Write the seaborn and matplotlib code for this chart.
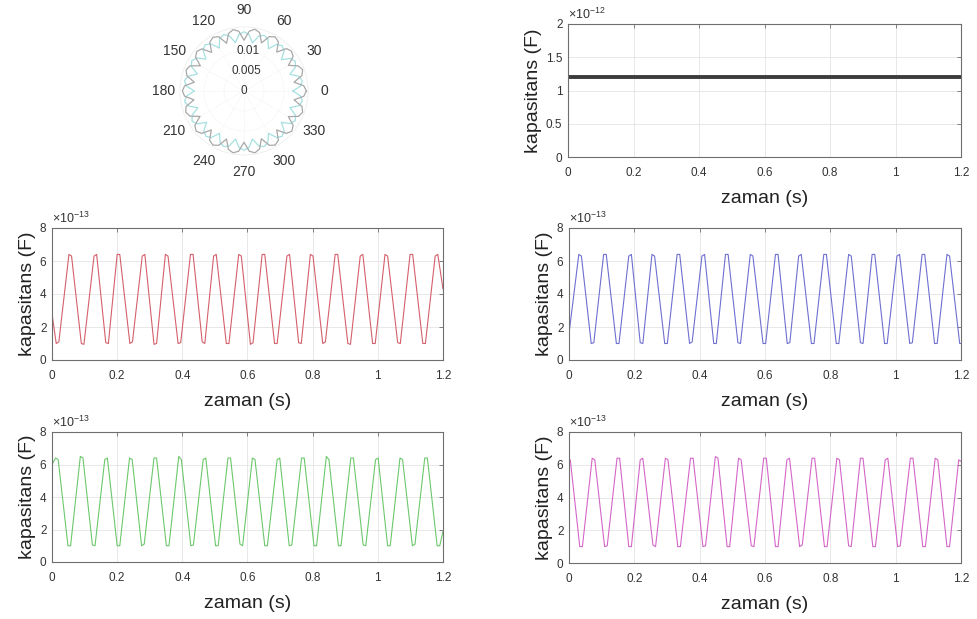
import numpy as np
import pandas as pd
import matplotlib
matplotlib.use("Agg")
import matplotlib.pyplot as plt
import seaborn as sns

# ------------------------------------------------------------------ data
time_ticks = [0, 0.2, 0.4, 0.6, 0.8, 1.0, 1.2]
time_tick_labels = ["0", "0.2", "0.4", "0.6", "0.8", "1", "1.2"]

# constant capacitance (units of 1e-12 F)
const_t = [0.0, 1.2]
const_c = [1.2, 1.2]
const_yticks = [0, 0.5, 1, 1.5, 2]
const_ytick_labels = ["0", "0.5", "1", "1.5", "2"]

# oscillating capacitances (units of 1e-13 F)
osc_yticks = [0, 2, 4, 6, 8]
osc_ytick_labels = ["0", "2", "4", "6", "8"]

red_t = [0.0,
         0.013, 0.021, 0.052, 0.060, 0.090, 0.098, 0.129, 0.137,
         0.165, 0.173, 0.200, 0.208, 0.239, 0.247, 0.277, 0.285,
         0.313, 0.321, 0.348, 0.356, 0.387, 0.395, 0.425, 0.433,
         0.461, 0.469, 0.496, 0.504, 0.535, 0.543, 0.573, 0.581,
         0.609, 0.617, 0.645, 0.653, 0.683, 0.691, 0.721, 0.729,
         0.757, 0.765, 0.793, 0.801, 0.831, 0.839, 0.869, 0.877,
         0.908, 0.916, 0.946, 0.954, 0.984, 0.992, 1.022, 1.030,
         1.061, 1.069, 1.099, 1.107, 1.138, 1.146, 1.176, 1.184,
         1.200]
red_c = [2.8,
         1.0, 1.1, 6.4, 6.3, 1.0, 0.95, 6.3, 6.4,
         1.05, 1.0, 6.4, 6.4, 1.0, 1.1, 6.3, 6.4,
         0.95, 1.0, 6.4, 6.3, 1.0, 1.05, 6.4, 6.4,
         1.1, 1.0, 6.3, 6.4, 1.0, 1.0, 6.4, 6.3,
         0.95, 1.05, 6.4, 6.4, 1.0, 1.0, 6.3, 6.4,
         1.05, 1.0, 6.4, 6.3, 1.0, 1.1, 6.4, 6.4,
         1.0, 0.95, 6.3, 6.4, 1.0, 1.0, 6.4, 6.3,
         1.05, 1.0, 6.4, 6.4, 1.0, 1.0, 6.3, 6.4,
         4.3]

blue_t = [0.0,
          0.030, 0.038, 0.068, 0.076, 0.106, 0.114, 0.145, 0.153,
          0.183, 0.191, 0.218, 0.226, 0.254, 0.262, 0.293, 0.301,
          0.331, 0.339, 0.369, 0.377, 0.407, 0.415, 0.443, 0.451,
          0.479, 0.487, 0.517, 0.525, 0.555, 0.563, 0.594, 0.602,
          0.632, 0.640, 0.668, 0.676, 0.703, 0.711, 0.742, 0.750,
          0.780, 0.788, 0.818, 0.826, 0.856, 0.864, 0.892, 0.900,
          0.928, 0.936, 0.966, 0.974, 1.004, 1.012, 1.043, 1.051,
          1.081, 1.089, 1.119, 1.127, 1.157, 1.165, 1.196, 1.200]
blue_c = [1.6,
          6.4, 6.3, 1.0, 1.05, 6.4, 6.4, 1.0, 1.0,
          6.3, 6.4, 1.05, 1.0, 6.4, 6.3, 1.0, 1.0,
          6.4, 6.4, 1.0, 1.1, 6.3, 6.4, 1.0, 1.0,
          6.4, 6.4, 1.05, 1.0, 6.4, 6.3, 1.0, 1.0,
          6.4, 6.4, 1.0, 1.05, 6.3, 6.4, 1.0, 1.0,
          6.4, 6.4, 1.0, 1.0, 6.4, 6.3, 1.05, 1.0,
          6.4, 6.4, 1.0, 1.0, 6.3, 6.4, 1.0, 1.05,
          6.4, 6.4, 1.0, 1.0, 6.4, 6.3, 1.0, 1.0]

green_t = [0.0,
           0.011, 0.019, 0.049, 0.057, 0.087, 0.095, 0.124, 0.132,
           0.162, 0.170, 0.200, 0.208, 0.238, 0.246, 0.275, 0.283,
           0.313, 0.321, 0.351, 0.359, 0.389, 0.397, 0.426, 0.434,
           0.464, 0.472, 0.502, 0.510, 0.540, 0.548, 0.577, 0.585,
           0.615, 0.623, 0.653, 0.661, 0.691, 0.699, 0.728, 0.736,
           0.766, 0.774, 0.804, 0.812, 0.842, 0.850, 0.879, 0.887,
           0.917, 0.925, 0.955, 0.963, 0.993, 1.001, 1.030, 1.038,
           1.068, 1.076, 1.106, 1.114, 1.144, 1.152, 1.182, 1.190,
           1.200]
green_c = [6.0,
           6.4, 6.3, 1.0, 1.0, 6.5, 6.4, 1.05, 1.0,
           6.3, 6.4, 1.0, 1.0, 6.4, 6.3, 1.0, 1.1,
           6.4, 6.4, 1.0, 1.0, 6.5, 6.3, 1.0, 1.05,
           6.3, 6.4, 1.0, 1.0, 6.4, 6.4, 1.1, 1.0,
           6.4, 6.3, 1.0, 1.0, 6.3, 6.4, 1.0, 1.05,
           6.4, 6.4, 1.0, 1.0, 6.5, 6.3, 1.0, 1.0,
           6.4, 6.4, 1.05, 1.0, 6.3, 6.4, 1.0, 1.0,
           6.4, 6.3, 1.0, 1.1, 6.4, 6.4, 1.0, 1.0,
           1.9]

magenta_t = [0.0, 0.004,
             0.033, 0.041, 0.071, 0.079, 0.109, 0.117, 0.147, 0.155,
             0.183, 0.191, 0.218, 0.226, 0.257, 0.265, 0.295, 0.303,
             0.333, 0.341, 0.372, 0.380, 0.410, 0.418, 0.448, 0.456,
             0.484, 0.492, 0.519, 0.527, 0.558, 0.566, 0.596, 0.604,
             0.632, 0.640, 0.667, 0.675, 0.706, 0.714, 0.744, 0.752,
             0.782, 0.790, 0.820, 0.828, 0.856, 0.864, 0.892, 0.900,
             0.930, 0.938, 0.968, 0.976, 1.006, 1.014, 1.045, 1.053,
             1.083, 1.091, 1.121, 1.129, 1.157, 1.165, 1.193, 1.200]
magenta_c = [6.2, 6.3,
             1.0, 1.0, 6.4, 6.3, 1.0, 1.05, 6.4, 6.4,
             1.0, 1.0, 6.3, 6.4, 1.1, 1.0, 6.4, 6.3,
             1.0, 1.0, 6.4, 6.4, 1.0, 1.05, 6.5, 6.4,
             1.0, 1.0, 6.4, 6.3, 1.05, 1.0, 6.4, 6.4,
             1.0, 1.0, 6.3, 6.4, 1.0, 1.1, 6.4, 6.4,
             1.0, 1.0, 6.4, 6.3, 1.05, 1.0, 6.4, 6.4,
             1.0, 1.0, 6.3, 6.4, 1.0, 1.05, 6.4, 6.4,
             1.0, 1.0, 6.4, 6.3, 1.0, 1.0, 6.3, 6.2]

# polar pattern (degrees, radius)
polar_deg = [0, 5, 10, 15, 20, 25, 30, 35, 40, 45, 50, 55, 60, 65, 70, 75,
             80, 85, 90, 95, 100, 105, 110, 115, 120, 125, 130, 135, 140, 145,
             150, 155, 160, 165, 170, 175, 180, 185, 190, 195, 200, 205, 210,
             215, 220, 225, 230, 235, 240, 245, 250, 255, 260, 265, 270, 275,
             280, 285, 290, 295, 300, 305, 310, 315, 320, 325, 330, 335, 340,
             345, 350, 355, 360]
polar_r_gray = [0.0156, 0.0150, 0.0127, 0.0150, 0.0156, 0.0149, 0.0128, 0.0150,
                0.0155, 0.0150, 0.0127, 0.0150, 0.0156, 0.0150, 0.0128, 0.0151,
                0.0157, 0.0150, 0.0127, 0.0150, 0.0156, 0.0149, 0.0127, 0.0150,
                0.0155, 0.0149, 0.0126, 0.0149, 0.0154, 0.0148, 0.0126, 0.0149,
                0.0154, 0.0148, 0.0126, 0.0149, 0.0154, 0.0149, 0.0127, 0.0150,
                0.0155, 0.0149, 0.0127, 0.0150, 0.0156, 0.0150, 0.0127, 0.0150,
                0.0156, 0.0150, 0.0128, 0.0151, 0.0157, 0.0151, 0.0128, 0.0151,
                0.0157, 0.0150, 0.0127, 0.0150, 0.0156, 0.0150, 0.0127, 0.0150,
                0.0156, 0.0150, 0.0128, 0.0150, 0.0156, 0.0150, 0.0127, 0.0150,
                0.0156]
polar_r_cyan = [0.0122, 0.0142, 0.0148, 0.0142, 0.0122, 0.0142, 0.0148, 0.0142,
                0.0122, 0.0142, 0.0148, 0.0142, 0.0122, 0.0142, 0.0148, 0.0142,
                0.0122, 0.0142, 0.0148, 0.0142, 0.0123, 0.0143, 0.0150, 0.0144,
                0.0124, 0.0144, 0.0151, 0.0145, 0.0124, 0.0144, 0.0151, 0.0145,
                0.0124, 0.0144, 0.0151, 0.0145, 0.0124, 0.0144, 0.0151, 0.0144,
                0.0123, 0.0143, 0.0150, 0.0143, 0.0122, 0.0142, 0.0148, 0.0142,
                0.0122, 0.0142, 0.0148, 0.0142, 0.0122, 0.0142, 0.0148, 0.0142,
                0.0122, 0.0142, 0.0148, 0.0142, 0.0122, 0.0142, 0.0148, 0.0142,
                0.0122, 0.0142, 0.0148, 0.0142, 0.0122, 0.0142, 0.0148, 0.0142,
                0.0122]
polar_rticks = [0, 0.005, 0.01]
polar_rtick_labels = ["0", "0.005", "0.01"]
polar_theta_ticks = [0, 30, 60, 90, 120, 150, 180, 210, 240, 270, 300, 330]

# ------------------------------------------------------------------ style
sns.set_theme(style="white")
plt.rcParams["font.family"] = ["Liberation Sans", "DejaVu Sans"]
plt.rcParams["mathtext.fontset"] = "custom"
plt.rcParams["mathtext.rm"] = "Liberation Sans"
plt.rcParams["mathtext.it"] = "Liberation Sans:italic"

W, H = 978, 619
fig = plt.figure(figsize=(W / 100, H / 100), dpi=100)
fig.patch.set_facecolor("white")


def px_axes(left, top, right, bottom, **kw):
    return fig.add_axes([left / W, 1 - bottom / H, (right - left) / W,
                         (bottom - top) / H], **kw)


AX_COL = "#6e6e6e"
TXT_COL = "#333333"


def style_time_axis(ax, ylim, yticks, ylabels, exponent):
    ax.set_xlim(0, 1.2)
    ax.set_ylim(*ylim)
    ax.set_xticks(time_ticks)
    ax.set_xticklabels(time_tick_labels)
    ax.set_yticks(yticks)
    ax.set_yticklabels(ylabels)
    ax.set_axisbelow(True)
    ax.grid(True, color="#e4e4e4", linewidth=0.6)
    ax.tick_params(direction="in", top=True, right=True, length=3, width=0.6,
                   color=AX_COL, labelcolor=TXT_COL, labelsize=8.5)
    ax.tick_params(axis="x", pad=7)
    ax.tick_params(axis="y", pad=4)
    for s in ax.spines.values():
        s.set_visible(True)
        s.set_color(AX_COL)
        s.set_linewidth(0.8)
    ax.set_xlabel("zaman (s)", fontsize=14, labelpad=8, color="#222222")
    ax.set_ylabel("kapasitans (F)", fontsize=14, labelpad=3, color="#222222")
    ax.text(0.0, 1.015, r"$\times10^{%d}$" % exponent, transform=ax.transAxes,
            fontsize=9, ha="left", va="bottom", color=TXT_COL)


# ---- polar plot
axp = px_axes(180, 27, 308, 155, projection="polar")
sns.lineplot(x=np.deg2rad(polar_deg), y=polar_r_cyan, ax=axp, color="#a6e0e0",
             linewidth=0.9, sort=False, estimator=None)
sns.lineplot(x=np.deg2rad(polar_deg), y=polar_r_gray, ax=axp, color="#a8a8a8",
             linewidth=0.9, sort=False, estimator=None)
axp.set_ylim(0, 0.016)
axp.set_yticks(polar_rticks)
axp.set_yticklabels([])
for rv, lab in zip(polar_rticks, polar_rtick_labels):
    axp.text(np.deg2rad(84), rv, lab, ha="center", va="center", fontsize=8.5,
             color=TXT_COL)
axp.set_thetagrids(polar_theta_ticks, [str(a) for a in polar_theta_ticks])
axp.tick_params(axis="x", labelsize=10, labelcolor=TXT_COL, pad=-1)
axp.grid(True, color="#ececec", linewidth=0.6, linestyle=":")
axp.spines["polar"].set_color("#eeeeee")
axp.spines["polar"].set_linewidth(0.6)
axp.set_xlabel("")
axp.set_ylabel("")

# ---- constant capacitance
ax1 = px_axes(568, 24, 961, 157)
sns.lineplot(x=const_t, y=const_c, ax=ax1, color="#3c3c3c", linewidth=2.8,
             sort=False, estimator=None)
style_time_axis(ax1, (0, 2), const_yticks, const_ytick_labels, -12)

# ---- oscillating capacitances
series = [
    (52, 228, 443, 360, red_t, red_c, "#d4606c"),
    (569, 228, 961, 360, blue_t, blue_c, "#6f6fd0"),
    (52, 432, 443, 562, green_t, green_c, "#6cc86c"),
    (569, 432, 961, 563, magenta_t, magenta_c, "#d466c8"),
]
for (l, t, r, b, xt, yc, col) in series:
    ax = px_axes(l, t, r, b)
    sns.lineplot(x=xt, y=yc, ax=ax, color=col, linewidth=0.8, sort=False,
                 estimator=None)
    style_time_axis(ax, (0, 8), osc_yticks, osc_ytick_labels, -13)

fig.savefig("out.png", dpi=100, facecolor="white")
